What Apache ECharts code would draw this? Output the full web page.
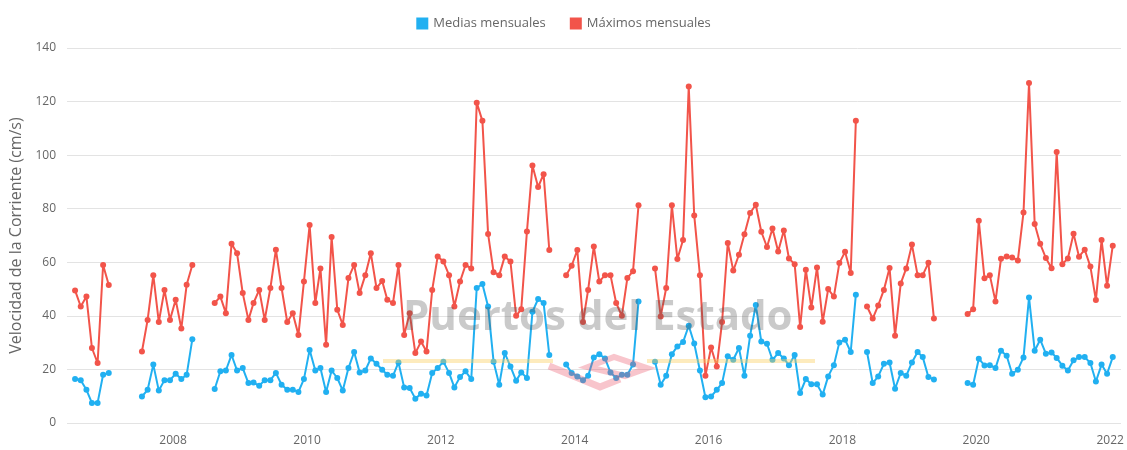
<!DOCTYPE html>
<html>
<head>
<meta charset="utf-8">
<script src="https://cdn.jsdelivr.net/npm/echarts@6/dist/echarts.min.js"></script>
<style>
html,body{margin:0;padding:0;background:#fff;}
#chart{width:1127px;height:450px;}
</style>
</head>
<body>
<div id="chart"></div>
<script>
// First data month: July 2006 (points plotted at mid-month)
var startYear = 2006;
var startMonth = 7;

// Medias mensuales (cm/s), one value per month, null = no data
var medias = [
16.4,16.0,12.4,7.5,7.5,18.0,18.7,null,null,null,null,null,
9.9,12.4,21.8,12.1,16.0,16.0,18.4,16.4,18.0,31.3,null,null,
null,12.7,19.3,19.6,25.4,19.6,20.5,14.9,15.1,13.9,16.0,16.0,
18.7,14.3,12.4,12.4,11.6,16.4,27.3,19.6,20.5,11.6,19.6,16.8,
12.1,20.5,26.5,18.9,19.6,24.1,22.1,19.9,18.0,17.6,22.6,13.3,
13.1,9.1,10.9,10.3,18.7,20.5,22.9,18.7,13.3,17.2,19.3,16.4,
50.4,51.9,43.5,22.9,14.3,26.1,21.1,15.8,18.9,16.8,41.5,46.3,
44.8,25.4,null,null,21.8,18.7,17.4,16.0,17.6,24.5,25.7,24.1,
18.9,16.8,18.0,18.0,21.8,45.4,null,null,22.9,14.3,17.6,25.7,
28.6,30.2,36.3,29.7,19.6,9.6,9.9,12.4,14.9,24.9,23.6,28.0,
17.6,32.6,44.1,30.4,29.6,23.6,26.1,24.1,21.6,25.4,11.2,16.4,
14.5,14.5,10.6,17.4,21.6,30.1,31.1,26.5,47.9,null,26.5,14.9,
17.4,22.1,22.6,12.8,18.7,17.6,22.6,26.5,24.6,17.2,16.2,null,
null,null,null,null,14.9,14.3,24.0,21.5,21.6,20.5,27.0,25.1,
18.4,19.9,24.5,46.9,27.0,31.1,25.9,26.3,24.3,21.4,19.6,23.4,
24.6,24.6,22.4,15.5,21.8,18.4,24.6
];

// Máximos mensuales (cm/s)
var maximos = [
49.5,43.5,47.2,28.0,22.4,59.0,51.5,null,null,null,null,null,
26.7,38.5,55.2,37.7,49.7,38.5,46.0,35.3,51.6,59.0,null,null,
null,44.8,47.2,41.0,66.9,63.4,48.5,38.5,44.8,49.7,38.5,50.4,
64.7,50.4,37.7,41.0,32.9,52.8,73.9,44.8,57.7,29.2,69.4,42.3,
36.6,54.1,59.0,48.5,55.2,63.4,50.4,53.0,46.0,44.8,59.0,32.9,
41.0,26.1,30.4,26.7,49.7,62.2,60.3,55.2,43.5,52.8,59.0,57.7,
119.6,112.8,70.6,56.3,55.2,62.2,60.3,40.0,42.5,71.5,96.1,88.1,
92.9,64.6,null,null,55.2,58.7,64.6,37.7,49.7,65.9,52.8,55.2,
55.2,44.8,40.0,54.1,56.7,81.3,null,null,57.7,39.8,50.4,81.3,
61.2,68.3,125.6,77.5,55.2,17.6,28.2,21.1,37.7,67.2,56.9,62.8,
70.5,78.4,81.5,71.4,65.7,72.6,64.0,71.9,61.4,59.3,35.8,57.2,
43.1,58.1,37.8,50.0,47.2,59.7,63.9,56.0,112.8,null,43.5,39.0,
43.9,49.7,57.9,32.6,52.1,57.7,66.6,55.2,55.2,59.8,39.0,null,
null,null,null,null,40.7,42.5,75.5,54.0,55.2,45.4,61.3,62.2,
61.8,60.7,78.6,126.9,74.3,66.9,61.6,57.8,101.2,59.3,61.4,70.7,
62.1,64.7,58.4,45.9,68.3,51.2,66.2
];

var tickYears = [2008, 2010, 2012, 2014, 2016, 2018, 2020, 2022];
var yTicks = [0, 20, 40, 60, 80, 100, 120, 140];

function monthDate(i) {
  return Date.UTC(startYear, startMonth - 1 + i, 15);
}
function toPairs(arr) {
  return arr.map(function (v, i) { return [monthDate(i), v]; });
}

var BLUE = '#21b0f1';
var RED = '#f2544a';
var FONT = '"Open Sans", "DejaVu Sans", sans-serif';

var chart = echarts.init(document.getElementById('chart'), null, {renderer: 'canvas'});
chart.setOption({
  animation: false,
  backgroundColor: '#ffffff',
  textStyle: {fontFamily: FONT},
  legend: {
    top: 12,
    left: 'center',
    itemWidth: 12,
    itemHeight: 12,
    itemGap: 24,
    icon: 'rect',
    textStyle: {color: '#666666', fontSize: 13, fontFamily: FONT},
    data: ['Medias mensuales', 'Máximos mensuales']
  },
  grid: {left: 67, right: 6, top: 48, bottom: 27, containLabel: false},
  xAxis: {
    type: 'value',
    min: Date.UTC(2006, 5, 1),
    max: Date.UTC(2022, 2, 1),
    axisLine: {show: false},
    axisTick: {show: false},
    splitLine: {show: false},
    axisLabel: {
      customValues: tickYears.map(function (y) { return Date.UTC(y, 0, 1); }),
      formatter: function (v) { return String(new Date(v).getUTCFullYear()); },
      color: '#666666',
      fontSize: 12,
      margin: 12,
      fontFamily: FONT
    }
  },
  yAxis: {
    type: 'value',
    min: yTicks[0],
    max: yTicks[yTicks.length - 1],
    interval: 20,
    name: 'Velocidad de la Corriente (cm/s)',
    nameLocation: 'middle',
    nameRotate: 90,
    nameGap: 40,
    nameTextStyle: {color: '#666666', fontSize: 16, fontFamily: FONT},
    axisLine: {show: false},
    axisTick: {show: false},
    axisLabel: {color: '#666666', fontSize: 12, margin: 11, fontFamily: FONT},
    splitLine: {lineStyle: {color: '#e3e3e3', width: 1}}
  },
  series: [
    {
      name: 'Medias mensuales',
      type: 'line',
      data: toPairs(medias),
      color: BLUE,
      symbol: 'circle',
      symbolSize: 6,
      showSymbol: true,
      connectNulls: false,
      lineStyle: {width: 2, color: BLUE},
      itemStyle: {color: BLUE}
    },
    {
      name: 'Máximos mensuales',
      type: 'line',
      data: toPairs(maximos),
      color: RED,
      symbol: 'circle',
      symbolSize: 6,
      showSymbol: true,
      connectNulls: false,
      lineStyle: {width: 2, color: RED},
      itemStyle: {color: RED}
    }
  ],
  graphic: [
    {
      type: 'text', z: 100, silent: true,
      left: 403, top: 297,
      style: {text: 'Puertos del Estado', fill: 'rgba(80,80,80,0.3)', font: 'bold 42px "Open Sans", sans-serif'}
    },
    {
      type: 'line', z: 100, silent: true,
      shape: {x1: 383, y1: 361, x2: 553, y2: 361},
      style: {stroke: 'rgba(250,205,90,0.4)', lineWidth: 4}
    },
    {
      type: 'line', z: 100, silent: true,
      shape: {x1: 647, y1: 361, x2: 815, y2: 361},
      style: {stroke: 'rgba(250,205,90,0.4)', lineWidth: 4}
    },
    {
      type: 'polyline', z: 100, silent: true,
      shape: {points: [[549, 366], [600, 387], [620, 379]]},
      style: {stroke: 'rgba(235,80,100,0.33)', lineWidth: 7, fill: null}
    },
    {
      type: 'polygon', z: 100, silent: true,
      shape: {points: [[588, 367], [614, 357], [647, 368], [625, 376]]},
      style: {stroke: 'rgba(235,80,100,0.33)', lineWidth: 6, fill: null}
    }
  ]
});
</script>
</body>
</html>
